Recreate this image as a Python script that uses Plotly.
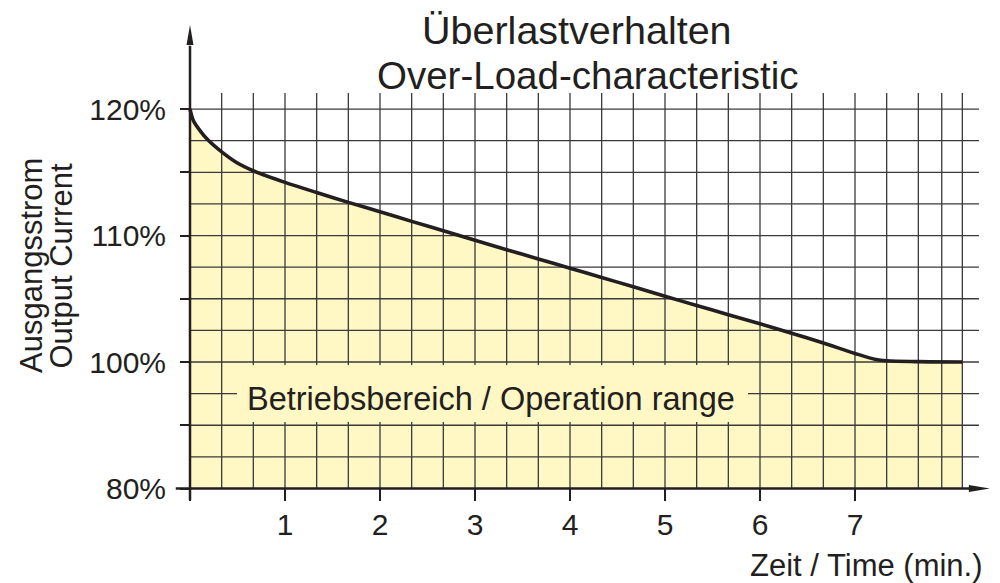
import plotly.graph_objects as go

# ---------------- data ----------------
time_min = [0, 0.035, 0.105, 0.19, 0.344, 0.49, 0.677, 1.0, 1.333, 1.667,
            2.0, 2.333, 2.667, 3.0, 3.333, 3.667, 4.0, 4.333, 4.667, 5.0,
            5.333, 5.667, 6.0, 6.333, 6.667, 7.0, 7.22, 7.333, 7.667, 8.13]
current_pct = [120, 119.1, 118.3, 117.55, 116.55, 115.77, 115.08, 114.2, 113.4, 112.62,
               111.88, 111.12, 110.38, 109.62, 108.88, 108.15, 107.42, 106.68, 105.95, 105.2,
               104.47, 103.74, 103.02, 102.28, 101.5, 100.68, 100.2, 100.1, 100.03, 100.0]

x_tick_vals = [0, 1, 2, 3, 4, 5, 6, 7]
x_tick_text = ["", "1", "2", "3", "4", "5", "6", "7"]
# axis position 90 carries the "80%" label (lower part of the axis is compressed)
y_tick_vals = [90, 95, 100, 105, 110, 115, 120]
y_tick_text = ["80%", "", "100%", "", "110%", "", "120%"]

title_line1 = "Überlastverhalten"
title_line2 = "Over-Load-characteristic"
y_title_line1 = "Ausgangsstrom"
y_title_line2 = "Output Current"
x_title = "Zeit / Time (min.)"
region_label = "Betriebsbereich / Operation range"

# ---------------- style ----------------
INK = "#231f20"
FILL = "#fff7c4"
GRID = "#3a3a3a"
FONT = "Liberation Sans, Arial, Helvetica, sans-serif"

W, H = 1000, 583
M_L, M_R, M_T, M_B = 160, 5, 20, 73
X_RANGE = [-0.3158, 8.4737]
Y_RANGE = [88.30, 127.04]
AXIS_BASE = 90          # y position of the time axis
GRID_TOP = 121.27
GRID_RIGHT = 8.305
X_END = time_min[-1]

PW = W - M_L - M_R
PH = H - M_T - M_B


def px(x):
    return (x - M_L) / PW


def py(y):
    return (H - M_B - y) / PH


fig = go.Figure()

# baseline for the filled operating area
fig.add_trace(go.Scatter(x=[0, X_END], y=[AXIS_BASE, AXIS_BASE], mode="lines",
                         line=dict(width=0, color=FILL), hoverinfo="skip"))
# filled region under the curve
fig.add_trace(go.Scatter(x=time_min, y=current_pct, mode="lines", fill="tonexty",
                         fillcolor=FILL,
                         line=dict(width=0, color=FILL, shape="spline", smoothing=0.8),
                         hoverinfo="skip"))

# grid (drawn above the fill)
vx = [k / 3 for k in range(1, 24)] + [7.913, X_END]
gx, gy = [], []
for v in vx:
    gx += [v, v, None]
    gy += [AXIS_BASE, GRID_TOP, None]
hy = [92.5 + 2.5 * k for k in range(12)]
for h in hy:
    gx += [0, GRID_RIGHT, None]
    gy += [h, h, None]
fig.add_trace(go.Scatter(x=gx, y=gy, mode="lines", line=dict(width=1.3, color=GRID),
                         hoverinfo="skip", connectgaps=False))

# the characteristic curve
fig.add_trace(go.Scatter(x=time_min, y=current_pct, mode="lines",
                         line=dict(width=3.6, color=INK, shape="spline", smoothing=0.8)))

shapes = [
    # label background covering grid
    dict(type="rect", xref="paper", yref="paper", x0=px(237), x1=px(748), y0=py(422), y1=py(365),
         fillcolor=FILL, line=dict(width=0), layer="above"),
    # x axis line
    dict(type="line", xref="x", yref="y", x0=-0.15, x1=8.2, y0=AXIS_BASE, y1=AXIS_BASE,
         line=dict(color=INK, width=2.5), layer="above"),
    # y axis line
    dict(type="line", xref="x", yref="y", x0=0, x1=0, y0=89.09, y1=125.0,
         line=dict(color=INK, width=2.5), layer="above"),
    # arrow heads
    dict(type="path", xref="x", yref="y", xsizemode="pixel", ysizemode="pixel",
         xanchor=8.42, yanchor=AXIS_BASE, path="M 0,0 L -21,3.5 L -21,-3.5 Z",
         fillcolor=INK, line=dict(width=0), layer="above"),
    dict(type="path", xref="x", yref="y", xsizemode="pixel", ysizemode="pixel",
         xanchor=0, yanchor=126.64, path="M 0,0 L -3.5,-20 L 3.5,-20 Z",
         fillcolor=INK, line=dict(width=0), layer="above"),
]

annotations = [
    dict(text=title_line1, x=px(577), y=py(30), font=dict(size=39.5)),
    dict(text=title_line2, x=px(587.5), y=py(75), font=dict(size=38.5)),
    dict(text=y_title_line1, x=px(31.5), y=py(265.5), textangle=-90, font=dict(size=31)),
    dict(text=y_title_line2, x=px(61), y=py(266.5), textangle=-90, font=dict(size=31)),
    dict(text=x_title, x=px(866), y=py(565), font=dict(size=31)),
    dict(text=region_label, x=px(491), y=py(398.5), font=dict(size=32.5)),
]
for a in annotations:
    a.update(xref="paper", yref="paper", xanchor="center", yanchor="middle", showarrow=False)
    a["font"].update(family=FONT, color=INK)

fig.update_layout(
    width=W, height=H, autosize=False,
    margin=dict(l=M_L, r=M_R, t=M_T, b=M_B, pad=0),
    paper_bgcolor="white", plot_bgcolor="white", showlegend=False,
    font=dict(family=FONT, color=INK),
    xaxis=dict(range=X_RANGE, anchor="free",
               position=(AXIS_BASE - Y_RANGE[0]) / (Y_RANGE[1] - Y_RANGE[0]),
               showgrid=False, zeroline=False, showline=False,
               tickmode="array", tickvals=x_tick_vals, ticktext=x_tick_text,
               ticks="outside", ticklen=12, tickwidth=2, tickcolor=INK,
               ticklabelstandoff=-2,
               tickfont=dict(size=30, color=INK, family=FONT)),
    yaxis=dict(range=Y_RANGE, anchor="free",
               position=(0 - X_RANGE[0]) / (X_RANGE[1] - X_RANGE[0]),
               showgrid=False, zeroline=False, showline=False,
               tickmode="array", tickvals=y_tick_vals, ticktext=y_tick_text,
               ticks="outside", ticklen=10, tickwidth=2, tickcolor=INK,
               ticklabelstandoff=8,
               tickfont=dict(size=30, color=INK, family=FONT)),
    shapes=shapes,
    annotations=annotations,
)

fig.write_html("out.html", config={"displayModeBar": False},
               post_script="document.body.style.margin='0';")
